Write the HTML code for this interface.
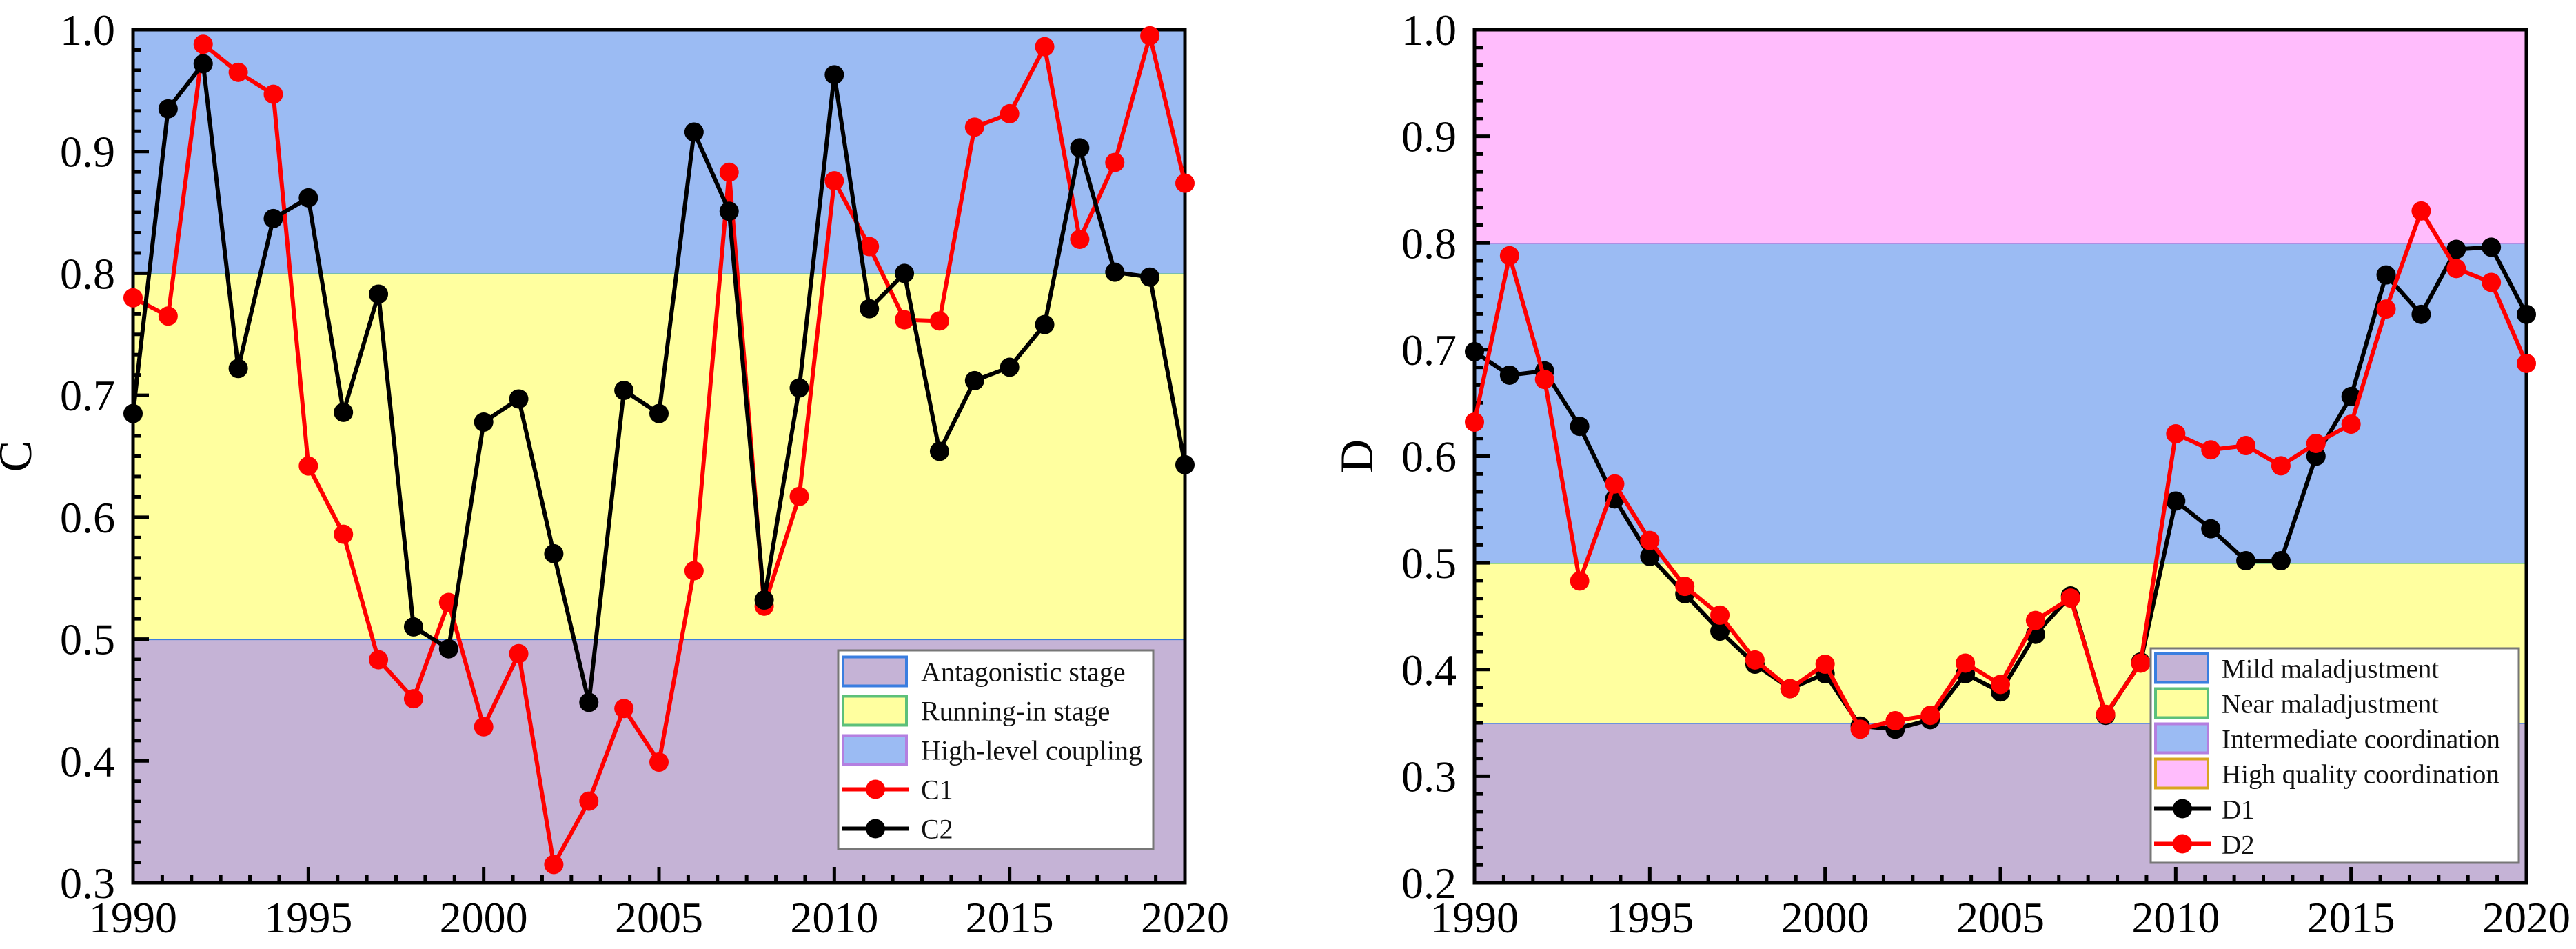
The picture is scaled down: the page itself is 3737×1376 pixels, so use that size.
<!DOCTYPE html>
<html><head><meta charset="utf-8"><style>
html,body{margin:0;padding:0;background:#fff;}
svg{display:block;}
svg text{font-family:"Liberation Serif","Times New Roman",serif;}
</style></head><body>
<svg id="s" width="3737" height="1376" viewBox="0 0 3737 1376" xmlns="http://www.w3.org/2000/svg" font-family="Liberation Serif, serif"></svg>
<script>
const years = [1990,1991,1992,1993,1994,1995,1996,1997,1998,1999,2000,2001,2002,2003,2004,2005,2006,2007,2008,2009,2010,2011,2012,2013,2014,2015,2016,2017,2018,2019,2020];
const c1 = [0.780,0.765,0.988,0.965,0.947,0.642,0.586,0.483,0.451,0.530,0.428,0.488,0.315,0.367,0.443,0.399,0.556,0.883,0.527,0.617,0.876,0.822,0.762,0.761,0.920,0.931,0.986,0.828,0.891,0.995,0.874];
const c2 = [0.685,0.935,0.972,0.722,0.845,0.862,0.686,0.783,0.510,0.492,0.678,0.697,0.570,0.448,0.704,0.685,0.916,0.851,0.532,0.706,0.963,0.771,0.800,0.654,0.712,0.723,0.758,0.903,0.801,0.797,0.643];
const d1 = [0.698,0.676,0.680,0.628,0.560,0.506,0.471,0.436,0.405,0.382,0.396,0.347,0.344,0.353,0.396,0.379,0.433,0.469,0.357,0.407,0.558,0.532,0.502,0.502,0.600,0.656,0.770,0.733,0.794,0.796,0.733];
const d2 = [0.632,0.788,0.672,0.483,0.574,0.521,0.478,0.451,0.409,0.382,0.405,0.344,0.352,0.357,0.406,0.386,0.446,0.467,0.358,0.406,0.621,0.606,0.610,0.591,0.612,0.630,0.738,0.830,0.776,0.763,0.687];
const xTicks = [1990,1995,2000,2005,2010,2015,2020];
const cTicks = [0.3,0.4,0.5,0.6,0.7,0.8,0.9,1.0];
const dTicks = [0.2,0.3,0.4,0.5,0.6,0.7,0.8,0.9,1.0];
const cBands = [0.3,0.5,0.8,1.0];
const dBands = [0.2,0.35,0.5,0.8,1.0];
const cBandNames = ["Antagonistic stage","Running-in stage","High-level coupling"];
const dBandNames = ["Mild maladjustment","Near maladjustment","Intermediate coordination","High quality coordination"];

const NS="http://www.w3.org/2000/svg";
const svg=document.getElementById('s');
function mk(tag,attrs,parent){const e=document.createElementNS(NS,tag);for(const k in attrs)e.setAttribute(k,attrs[k]);(parent||svg).appendChild(e);return e;}
const FF='Liberation Serif, serif';
const fills=["#c5b3d6","#ffff9f","#9bbbf3","#ffbcfc"];
const edges=["#3a7ee0","#5cc07a","#b47fe0","#d9a520"];

function panel(opt){
  const L=opt.left,R=opt.left+1526,T=43,B=1280;
  const xs=v=>L+(v-1990)/30*(R-L);
  const ys=v=>B-(v-opt.ymin)/(opt.ymax-opt.ymin)*(B-T);
  const g=mk('g',{});
  
  
  for(let i=0;i<opt.bands.length-1;i++){
    const r=mk('rect',{x:L,y:ys(opt.bands[i+1]),width:R-L,height:ys(opt.bands[i])-ys(opt.bands[i+1]),fill:fills[i]},g);
    
    
    if(i<opt.bands.length-2){
      const ln=mk('line',{x1:L,x2:R,y1:ys(opt.bands[i+1]),y2:ys(opt.bands[i+1]),stroke:edges[i],'stroke-width':3},g);
      
      
    }
  }
  const tg=mk('g',{stroke:'#000','stroke-width':5},g);
  for(let i=0;i<=36;i++){
    const x=L+i*(R-L)/36;
    const len=(i%6===0)?23:12;
    mk('line',{x1:x,x2:x,y1:B,y2:B-len},tg);
  }
  const nY=Math.round((opt.ymax-opt.ymin)*10);
  for(let i=0;i<=nY*6;i++){
    const y=B-i*(B-T)/(nY*6);
    const len=(i%6===0)?23:12;
    mk('line',{x1:L,x2:L+len,y1:y,y2:y},tg);
  }
  const fr=mk('rect',{x:L,y:T,width:R-L,height:B-T,fill:'none',stroke:'#000','stroke-width':5},g);
  
  
  xTicks.forEach(v=>{
    const t=mk('text',{x:xs(v),y:1352,'font-size':64,'font-family':FF,'text-anchor':'middle',fill:'#000'},g);
    t.textContent=v;
    
    
  });
  opt.yticks.forEach(v=>{
    const t=mk('text',{x:L-26,y:ys(v)+22,'font-size':64,'font-family':FF,'text-anchor':'end',fill:'#000'},g);
    t.textContent=v.toFixed(1);
    
    
  });
  const yt=mk('text',{x:L-148,y:(T+B)/2,'font-size':68,'font-family':FF,'text-anchor':'middle',transform:'rotate(-90 '+(L-148)+' '+((T+B)/2)+')',fill:'#000'},g);
  yt.textContent=opt.title;
  
  
  opt.series.forEach(s=>{
    const sg=mk('g',{},g);
    
    
    const pts=years.map((y,i)=>xs(y)+','+ys(s.data[i])).join(' ');
    const pl=mk('polyline',{points:pts,fill:'none',stroke:s.color,'stroke-width':6,'stroke-linejoin':'round'},sg);
    
    
    years.forEach((y,i)=>{
      const c=mk('circle',{cx:xs(y),cy:ys(s.data[i]),r:14,fill:s.color},sg);
      
      
    });
  });
  const lg=mk('g',{},g);
  
  
  const lb=opt.legend;
  mk('rect',{x:lb.x,y:lb.y,width:lb.w,height:lb.h,fill:'#fff',stroke:'#777','stroke-width':3},lg);
  let row=0;
  opt.bandNames.forEach((n,i)=>{
    const cy=lb.y+lb.pad+lb.rh*(row+0.5);
    const sw=mk('rect',{x:lb.x+7,y:cy-21,width:lb.sw,height:42,fill:fills[i],stroke:edges[i],'stroke-width':4},lg);
    
    
    const t=mk('text',{x:lb.tx,y:cy+14,'font-size':lb.fs,'font-family':FF,fill:'#111'},lg);
    t.textContent=n;
    
    
    row++;
  });
  opt.legendSeries.forEach(s=>{
    const cy=lb.y+lb.pad+lb.rh*(row+0.5);
    mk('line',{x1:lb.x+5,x2:lb.x+5+lb.sw+6,y1:cy,y2:cy,stroke:s.color,'stroke-width':6},lg);
    mk('circle',{cx:lb.x+8+lb.sw/2,cy:cy,r:14,fill:s.color},lg);
    const t=mk('text',{x:lb.tx,y:cy+14,'font-size':lb.fs,'font-family':FF,fill:'#111'},lg);
    t.textContent=s.name.toUpperCase();
    
    
    row++;
  });
}
panel({name:'c',left:193,ymin:0.3,ymax:1.0,bands:cBands,bandNames:cBandNames,yticks:cTicks,title:'C',
  series:[{name:'c1',data:c1,color:'#ff0000'},{name:'c2',data:c2,color:'#000'}],
  legendSeries:[{name:'c1',color:'#ff0000'},{name:'c2',color:'#000'}],
  legend:{x:1216,y:943,w:457,h:288,pad:2,rh:57,sw:92,tx:1336,fs:40}});
panel({name:'d',left:2139,ymin:0.2,ymax:1.0,bands:dBands,bandNames:dBandNames,yticks:dTicks,title:'D',
  series:[{name:'d1',data:d1,color:'#000'},{name:'d2',data:d2,color:'#ff0000'}],
  legendSeries:[{name:'d1',color:'#000'},{name:'d2',color:'#ff0000'}],
  legend:{x:3120,y:940,w:534,h:311,pad:3,rh:51,sw:76,tx:3223,fs:39}});
</script>
</body></html>
